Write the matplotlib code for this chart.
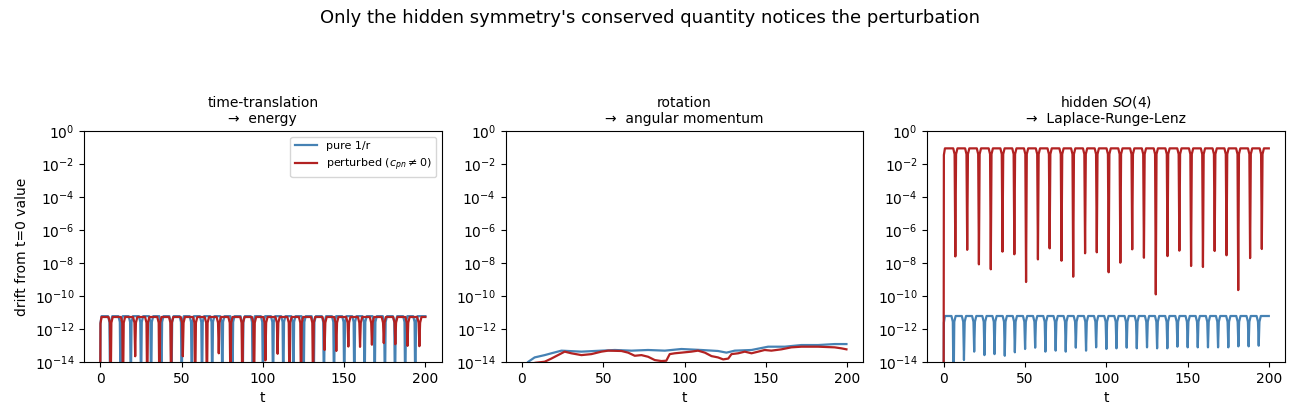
import numpy as np
import matplotlib
matplotlib.use("Agg")
import matplotlib.pyplot as plt
from matplotlib.ticker import NullLocator

# ---------------- data (log10 of drift) ----------------
T_END = 200.0

# panel 1: energy
energy_pure_plateau = -11.22
energy_pure_dip_t = [6.1, 12.5, 18.8, 25.1, 31.3, 37.6, 43.8, 50.1, 56.3, 62.6, 68.9,
                     75.1, 81.3, 87.6, 93.8, 100.1, 106.3, 112.6, 118.8, 125.1, 131.3,
                     137.6, 143.8, 150.1, 156.3, 162.6, 168.8, 175.1, 181.3, 187.6, 193.8]
energy_pure_dip_v = [-16.0] * 31

energy_pert_plateau = -11.27
energy_pert_dip_t = [6.4, 14.0, 21.5, 28.9, 36.4, 43.6, 50.8, 58.4, 65.6, 72.9, 80.1,
                     87.4, 94.6, 101.6, 109.1, 116.4, 123.5, 130.9, 138.0, 145.2, 152.6,
                     159.8, 167.1, 174.4, 181.5, 189.0, 196.3]
energy_pert_dip_v = [-16.0, -16.0, -13.65, -16.0, -16.0, -16.0, -13.65, -16.0, -16.0, -13.47,
                     -16.0, -16.0, -16.0, -13.9, -13.5, -16.0, -16.0, -16.0, -13.27, -13.33,
                     -13.06, -13.08, -12.95, -12.85, -12.92, -13.02, -13.04]

# panel 2: angular momentum
angmom_pure_t = [0, 3.7, 7.8, 14.0, 18.1, 24.3, 36.6, 48.9, 57.1, 67.4, 77.6, 87.9, 98.1,
                 110.4, 120.6, 125.8, 130.9, 141.2, 151.4, 161.7, 171.9, 182.2, 192.4, 199.6]
angmom_pure_v = [-14.5, -14.0, -13.72, -13.58, -13.47, -13.31, -13.37, -13.31, -13.27, -13.31,
                 -13.27, -13.31, -13.21, -13.27, -13.33, -13.43, -13.31, -13.27, -13.07, -13.07,
                 -12.97, -12.97, -12.91, -12.91]
angmom_pert_t = [0, 8, 14, 18.1, 22.2, 26.3, 30.4, 36.6, 42.7, 48.9, 53, 61.2, 65.3, 69.4,
                 73.5, 77.6, 81.7, 85.8, 88.8, 90.9, 94, 98.1, 104.2, 108.3, 112.5, 116.6,
                 120.6, 123.8, 126.9, 128.9, 133, 137.1, 141.2, 145.3, 149.3, 153.4, 159.6,
                 165.7, 171.9, 182.2, 192.4, 196.5, 199.6]
angmom_pert_v = [-14.5, -14.05, -13.98, -13.79, -13.58, -13.37, -13.47, -13.58, -13.52, -13.37,
                 -13.31, -13.33, -13.43, -13.62, -13.58, -13.68, -13.88, -13.94, -13.92, -13.52,
                 -13.47, -13.43, -13.37, -13.31, -13.43, -13.64, -13.72, -13.84, -13.79, -13.52,
                 -13.47, -13.37, -13.47, -13.37, -13.27, -13.31, -13.23, -13.11, -13.07, -13.07,
                 -13.11, -13.17, -13.23]

# panel 3: Laplace-Runge-Lenz
lrl_pure_plateau = -11.21
lrl_pure_dip_t = energy_pure_dip_t
lrl_pure_dip_v = [-16.0, -13.88, -13.37, -13.58, -13.52, -13.62, -13.41, -13.21, -13.13, -13.37,
                  -13.31, -13.37, -13.13, -13.31, -13.11, -13.21, -13.17, -13.13, -13.17, -13.11,
                  -13.17, -13.17, -13.07, -13.11, -13.11, -13.11, -13.11, -13.11, -13.05, -13.05,
                  -13.01]
lrl_pert_plateau = -1.05
lrl_pert_dip_t = [7.2, 14.5, 21.7, 29.0, 36.2, 43.5, 50.7, 58.0, 65.2, 72.5, 79.7, 87.0, 94.2,
                  101.5, 108.7, 116.0, 123.2, 130.5, 137.7, 145.0, 152.2, 159.5, 166.7, 174.0,
                  181.2, 188.5, 195.7]
lrl_pert_dip_v = [-7.6, -7.2, -8.08, -8.38, -7.31, -7.47, -9.15, -7.78, -7.11, -7.86, -8.83,
                  -7.41, -7.35, -8.56, -7.98, -7.17, -7.68, -9.9, -7.58, -7.25, -8.18, -8.24,
                  -7.27, -7.53, -9.64, -7.7, -7.15]

titles = ["time-translation\n\u2192  energy", "rotation\n\u2192  angular momentum",
          "hidden $SO(4)$\n\u2192  Laplace-Runge-Lenz"]
labels = ["pure 1/r", r"perturbed ($c_{pn} \neq 0$)"]
BLUE = "#4682b4"
RED = "#b22222"


def dip_curve(plateau, dip_t, dip_v, w=0.45, sh=1.3):
    ts = [0.0, 0.15, 0.8]
    vs = [-16.0, plateau - 0.4, plateau]
    for td, dv in zip(dip_t, dip_v):
        ts += [td - sh, td - w, td, td + w, td + sh]
        vs += [plateau, plateau - 0.35, dv, plateau - 0.35, plateau]
    ts.append(T_END)
    vs.append(plateau)
    return np.array(ts), 10.0 ** np.array(vs)


fig, axes = plt.subplots(1, 3, figsize=(13, 4.2), dpi=100)
fig.subplots_adjust(left=0.0646, right=0.9885, bottom=0.138, top=0.688, wspace=0.179)

lw = 1.6
# panel 1
ax = axes[0]
t, v = dip_curve(energy_pure_plateau, energy_pure_dip_t, energy_pure_dip_v)
ax.plot(t, v, color=BLUE, lw=lw, label=labels[0])
t, v = dip_curve(energy_pert_plateau, energy_pert_dip_t, energy_pert_dip_v)
ax.plot(t, v, color=RED, lw=lw, label=labels[1])
ax.legend(loc="upper right", fontsize=8)
ax.set_ylabel("drift from t=0 value")

# panel 2
ax = axes[1]
ax.plot(angmom_pure_t, 10.0 ** np.array(angmom_pure_v), color=BLUE, lw=lw)
ax.plot(angmom_pert_t, 10.0 ** np.array(angmom_pert_v), color=RED, lw=lw)

# panel 3
ax = axes[2]
t, v = dip_curve(lrl_pure_plateau, lrl_pure_dip_t, lrl_pure_dip_v)
ax.plot(t, v, color=BLUE, lw=lw)
t, v = dip_curve(lrl_pert_plateau, lrl_pert_dip_t, lrl_pert_dip_v)
ax.plot(t, v, color=RED, lw=lw)

for ax, title in zip(axes, titles):
    ax.set_yscale("log")
    ax.set_ylim(1e-14, 1e0)
    ax.set_xlim(-10, 210)
    ax.set_yticks([10.0 ** k for k in range(-14, 1, 2)])
    ax.yaxis.set_minor_locator(NullLocator())
    ax.set_xticks([0, 50, 100, 150, 200])
    ax.set_xlabel("t")
    ax.set_title(title, fontsize=10)

fig.suptitle("Only the hidden symmetry's conserved quantity notices the perturbation",
             fontsize=13, y=0.978)
fig.savefig("out.png", dpi=100)
